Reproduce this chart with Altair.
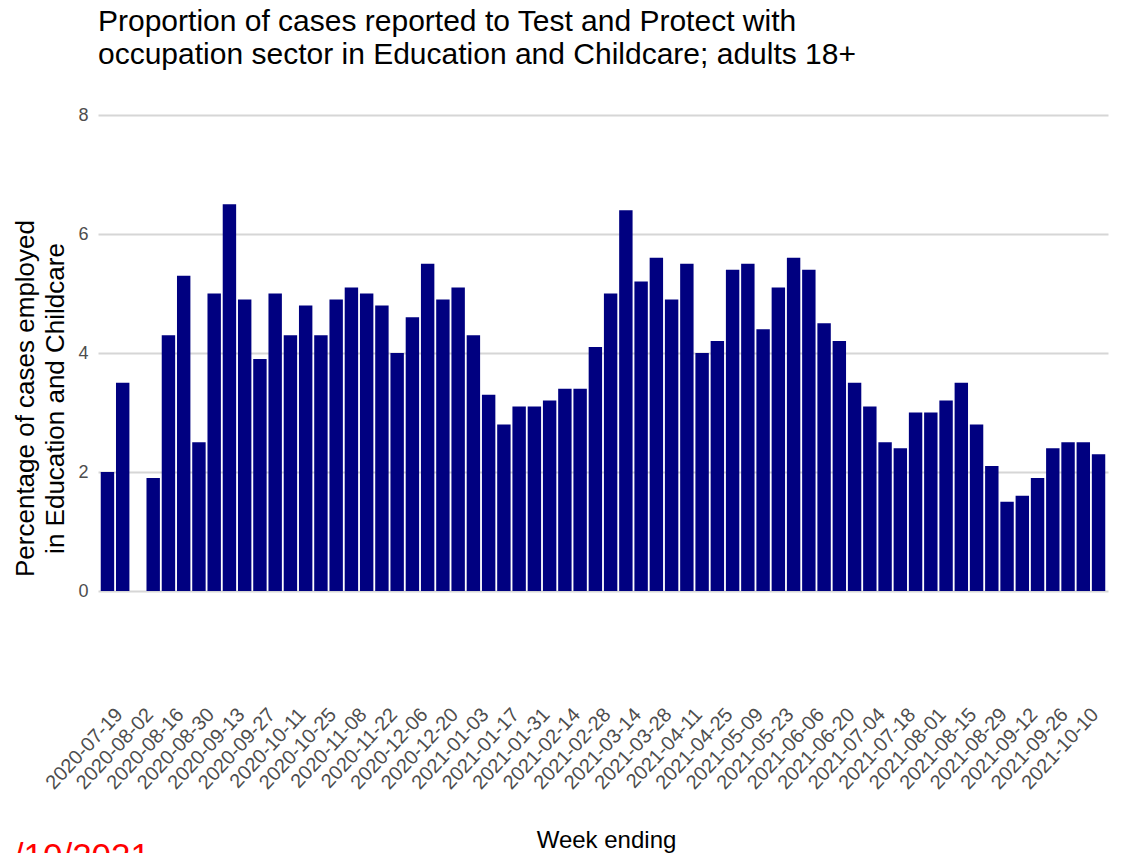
import altair as alt
import pandas as pd

title_lines = [
    "Proportion of cases reported to Test and Protect with",
    "occupation sector in Education and Childcare; adults 18+",
]
y_title = ["Percentage of cases employed", "in Education and Childcare"]
x_title = "Week ending"
corner_note = "/10/2021"

weeks = [
    "2020-07-19", "2020-07-26", "2020-08-02", "2020-08-09", "2020-08-16", "2020-08-23",
    "2020-08-30", "2020-09-06", "2020-09-13", "2020-09-20", "2020-09-27", "2020-10-04",
    "2020-10-11", "2020-10-18", "2020-10-25", "2020-11-01", "2020-11-08", "2020-11-15",
    "2020-11-22", "2020-11-29", "2020-12-06", "2020-12-13", "2020-12-20", "2020-12-27",
    "2021-01-03", "2021-01-10", "2021-01-17", "2021-01-24", "2021-01-31", "2021-02-07",
    "2021-02-14", "2021-02-21", "2021-02-28", "2021-03-07", "2021-03-14", "2021-03-21",
    "2021-03-28", "2021-04-04", "2021-04-11", "2021-04-18", "2021-04-25", "2021-05-02",
    "2021-05-09", "2021-05-16", "2021-05-23", "2021-05-30", "2021-06-06", "2021-06-13",
    "2021-06-20", "2021-06-27", "2021-07-04", "2021-07-11", "2021-07-18", "2021-07-25",
    "2021-08-01", "2021-08-08", "2021-08-15", "2021-08-22", "2021-08-29", "2021-09-05",
    "2021-09-12", "2021-09-19", "2021-09-26", "2021-10-03", "2021-10-10", "2021-10-17",
]

percent = [
    2.0, 3.5, None, 1.9, 4.3, 5.3, 2.5, 5.0, 6.5, 4.9, 3.9, 5.0,
    4.3, 4.8, 4.3, 4.9, 5.1, 5.0, 4.8, 4.0, 4.6, 5.5, 4.9, 5.1,
    4.3, 3.3, 2.8, 3.1, 3.1, 3.2, 3.4, 3.4, 4.1, 5.0, 6.4, 5.2,
    5.6, 4.9, 5.5, 4.0, 4.2, 5.4, 5.5, 4.4, 5.1, 5.6, 5.4, 4.5,
    4.2, 3.5, 3.1, 2.5, 2.4, 3.0, 3.0, 3.2, 3.5, 2.8, 2.1, 1.5,
    1.6, 1.9, 2.4, 2.5, 2.5, 2.3,
]

tick_labels = weeks[::2]
y_ticks = [0, 2, 4, 6, 8]

df = pd.DataFrame({"week": weeks, "pct": percent}).dropna()

bars = alt.Chart(df).mark_bar(color="#000080").encode(
    x=alt.X(
        "week:O",
        scale=alt.Scale(domain=weeks, paddingInner=0.12, paddingOuter=0.18),
        axis=alt.Axis(
            title=x_title,
            values=tick_labels,
            labelAngle=-47,
            labelAlign="right",
            labelBaseline="middle",
            labelPadding=120,
            labelOffset=12,
            labelFontSize=20,
            labelColor="#4d4d4d",
            labelOverlap=False,
            labelBound=False,
            labelFlush=False,
            ticks=False,
            tickSize=0,
            domain=False,
            grid=False,
            titleFontSize=24,
            titleFontWeight="normal",
            titleColor="#000000",
            titleX=508,
            titleY=256,
            titleBaseline="alphabetic",
        ),
    ),
    y=alt.Y(
        "pct:Q",
        scale=alt.Scale(domain=[0, 8], nice=False, zero=True),
        axis=alt.Axis(
            title=y_title,
            values=y_ticks,
            labelFontSize=18,
            labelColor="#4d4d4d",
            labelPadding=10,
            ticks=False,
            tickSize=0,
            domain=False,
            grid=True,
            gridColor="#d6d6d6",
            gridWidth=1.8,
            titleFontSize=26,
            titleFontWeight="normal",
            titleColor="#000000",
            titleLineHeight=30,
            titleBaseline="alphabetic",
            titleAngle=-90,
            titleX=-65,
            titleY=283,
        ),
    ),
)

note = alt.Chart(pd.DataFrame({"t": [corner_note]})).mark_text(
    color="#ff0000", fontSize=35, align="right", baseline="alphabetic"
).encode(x=alt.value(52), y=alt.value(753), text="t:N")

chart = alt.layer(bars, note).properties(
    width=1010,
    height=476,
    title=alt.TitleParams(
        text=title_lines,
        anchor="start",
        frame="group",
        fontSize=30,
        fontWeight="normal",
        color="#000000",
        lineHeight=33,
        offset=36,
    ),
    autosize=alt.AutoSizeParams(type="none"),
    padding={"left": 90, "top": 107, "right": 11, "bottom": 262},
).configure(font="Liberation Sans").configure_view(stroke=None)

chart.save("out.html", embed_options={"renderer": "svg", "actions": False})
